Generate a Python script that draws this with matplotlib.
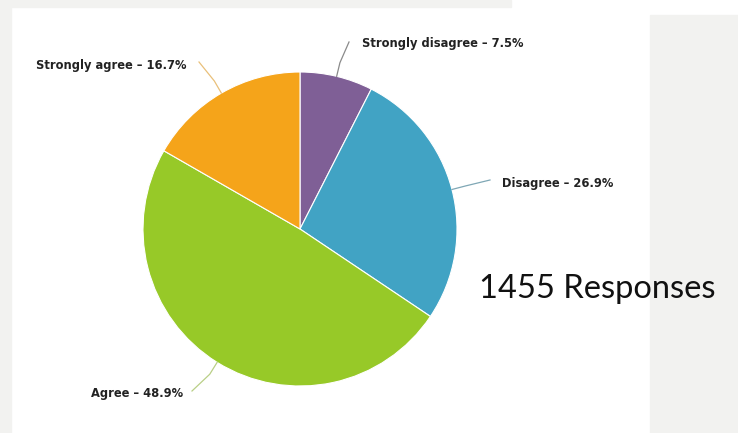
import matplotlib
matplotlib.use("Agg")
import numpy as np
import matplotlib.pyplot as plt
from matplotlib.patches import Rectangle

# 데이터
labels = ["Strongly disagree", "Disagree", "Agree", "Strongly agree"]
values = [7.5, 26.9, 48.9, 16.7]
colors = ["#7f5f96", "#41a3c4", "#97c928", "#f5a41a"]
line_colors = ["#8a8a8a", "#7fa7b5", "#b9cf86", "#e9c07a"]
responses = 1455

# 레이아웃 (픽셀 좌표, 위에서부터)
W, H = 738, 433
cx, cy, r = 300, 229, 157
label_pos = [(362, 44, "left"), (502, 183, "left"), (183, 393, "right"), (187, 65, "right")]
line_end = [(349, 42), (490, 180), (192, 391), (199, 62)]

fig = plt.figure(figsize=(W / 100, H / 100), dpi=100)
ax = fig.add_axes([0, 0, 1, 1])
ax.set_xlim(0, W)
ax.set_ylim(0, H)
ax.axis("off")

# 배경 회색 영역
bg = "#f2f2f0"
ax.add_patch(Rectangle((0, 0), 11, H, color=bg, zorder=0))
ax.add_patch(Rectangle((0, H - 7), 511, 7, color=bg, zorder=0))
ax.add_patch(Rectangle((650, 0), W - 650, H - 15, color=bg, zorder=0))

# 파이 차트
wedges, _ = ax.pie(values, colors=colors, startangle=90, counterclock=False,
                   center=(cx, H - cy), radius=r,
                   wedgeprops=dict(edgecolor="white", linewidth=0.8))
ax.set_xlim(0, W)
ax.set_ylim(0, H)

# 라벨과 연결선
total = sum(values)
cum = 0
for i, v in enumerate(values):
    mid = 90 - 360 * (cum + v / 2) / total
    cum += v
    a = np.deg2rad(mid)
    x0, y0 = cx + r * np.cos(a), cy - r * np.sin(a)
    x1, y1 = cx + (r + 14) * np.cos(a), cy - (r + 14) * np.sin(a)
    x2, y2 = line_end[i]
    ax.plot([x0, x1, x2], [H - y0, H - y1, H - y2], color=line_colors[i], lw=0.9, zorder=3)
    tx, ty, ha = label_pos[i]
    ax.text(tx, H - ty, "%s – %.1f%%" % (labels[i], v), ha=ha, va="center",
            fontsize=8.3, fontweight="bold", color="#222222")

ax.text(479, H - 289, "%d Responses" % responses, ha="left", va="center",
        fontsize=23.5, family="Lato", color="#111111")

fig.savefig("out.png", dpi=100)
